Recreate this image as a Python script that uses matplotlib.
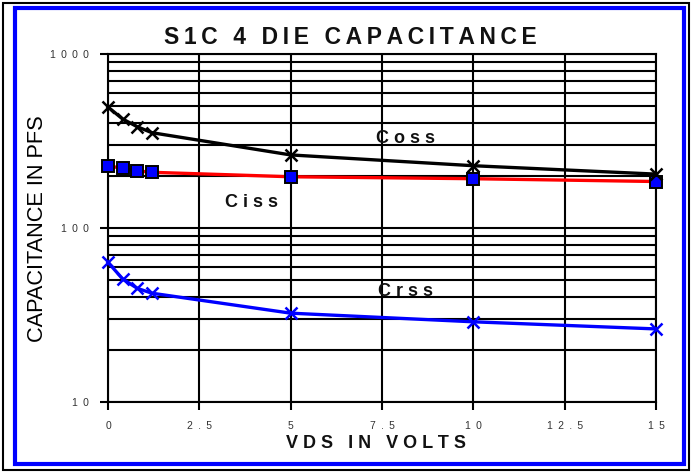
import matplotlib.pyplot as plt
import matplotlib.patches as patches
from matplotlib import font_manager
from matplotlib.ticker import LogLocator, FixedLocator, NullFormatter

vds = [0, 0.4, 0.8, 1.2, 5, 10, 15]
coss = [496, 423, 382, 353, 263, 228, 204]
ciss = [228, 220, 213, 209, 197, 192, 185]
crss = [63.5, 51, 45, 42.2, 32.4, 28.9, 26.3]
xticks = [0, 2.5, 5, 7.5, 10, 12.5, 15]
yticks = [10, 100, 1000]

SANS = ["Liberation Sans", "DejaVu Sans"]


def spaced(s, sep=" "):
    # fake letter spacing like the original chart
    return sep.join(s)


# the y label is in a narrow font in the original, use it if it is there
names = {f.name for f in font_manager.fontManager.ttflist}
if "Liberation Sans Narrow" in names:
    ylab_font, ylab_size = "Liberation Sans Narrow", 19
else:
    ylab_font, ylab_size = "Liberation Sans", 15.7

fig = plt.figure(figsize=(6.93, 4.72), dpi=100)
ax = fig.add_axes([108 / 693, 1 - 402 / 472, 548 / 693, 348 / 472])

ax.plot(vds, coss, color="black", lw=2.4, marker="x", ms=8.5, mew=1.8,
        zorder=4, clip_on=False)
ax.plot(vds, ciss, color="red", lw=2.4, marker="s", ms=8, mfc="blue",
        mec="black", mew=1.4, zorder=3, clip_on=False)
ax.plot(vds, crss, color="blue", lw=2.4, marker="x", ms=8.5, mew=1.8,
        zorder=4, clip_on=False)

ax.set_yscale("log")
ax.set_ylim(10, 1000)
ax.set_xlim(0, 15)
ax.xaxis.set_major_locator(FixedLocator(xticks))
ax.set_xticklabels([spaced("%g" % v, "\u2002") for v in xticks],
                   family=SANS)
ax.yaxis.set_major_locator(FixedLocator(yticks))
ax.set_yticklabels([spaced(str(v), "\u2002") for v in yticks], family=SANS)
ax.yaxis.set_minor_locator(LogLocator(base=10, subs=range(2, 10)))
ax.yaxis.set_minor_formatter(NullFormatter())
ax.tick_params(axis="y", which="minor", length=0)
ax.tick_params(axis="both", which="major", length=5.5, width=1.5,
               color="black", labelsize=7.5, labelcolor="#333333")
ax.tick_params(axis="x", pad=8.5)
ax.tick_params(axis="y", pad=8)
ax.grid(True, which="major", axis="both", color="black", lw=1.5)
ax.grid(True, which="minor", axis="y", color="black", lw=1.5)
ax.set_axisbelow(True)
for sp in ax.spines.values():
    sp.set_linewidth(1.5)

lab = dict(fontsize=13, fontweight="bold", family=SANS, color="#111111",
           ha="center", va="center")
ax.text(8.13, 329, spaced("Coss"), **lab)
ax.text(3.94, 141, spaced("Ciss"), **lab)
ax.text(8.13, 42.9, spaced("Crss"), **lab)

fig.text(350 / 693, 1 - 38 / 472, spaced("S1C 4 DIE CAPACITANCE", "\u2009"),
         ha="center", va="center", fontsize=16.5, fontweight="bold",
         family=SANS, color="#111111")
fig.text(376 / 693, 1 - 443 / 472, spaced("VDS IN VOLTS"),
         ha="center", va="center", fontsize=13, fontweight="bold",
         family=SANS, color="#111111")
fig.text(38 / 693, 1 - 229 / 472, "CAPACITANCE IN PFS", rotation=90,
         ha="center", va="center", fontsize=ylab_size,
         family=[ylab_font, "DejaVu Sans"], color="black")

# frame borders
fig.add_artist(patches.Rectangle((3 / 693, 2 / 472), 686 / 693, 467 / 472,
                                 transform=fig.transFigure, fill=False,
                                 ec="black", lw=1.5))
fig.add_artist(patches.Rectangle((15 / 693, 8 / 472), 669 / 693, 456 / 472,
                                 transform=fig.transFigure, fill=False,
                                 ec="blue", lw=3))

fig.savefig("out.png", dpi=100)
